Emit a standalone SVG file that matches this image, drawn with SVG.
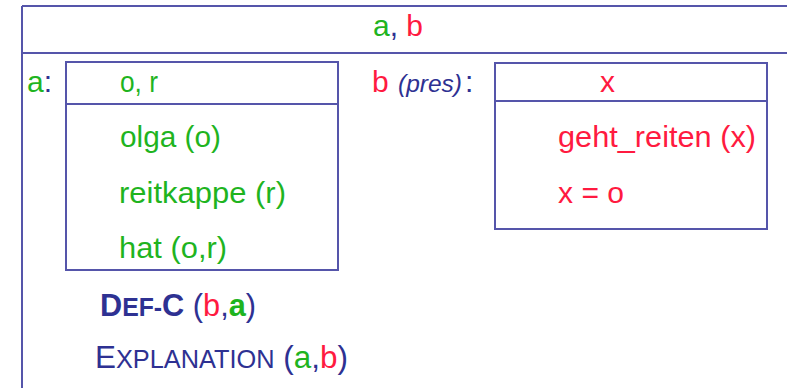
<svg xmlns="http://www.w3.org/2000/svg" width="787" height="388" viewBox="0 0 787 388">
<style>
text{font-family:"Liberation Sans",Arial,sans-serif;font-size:30px;fill:#2E3192}
.g{fill:#1FB41F}
.r{fill:#FF1A40}
.b{fill:#2E3192}
.ln{stroke:#5555AA;stroke-width:2;fill:none}
.it{font-style:italic;font-size:23px}
.sc{font-size:25px}
</style>
<rect width="787" height="388" fill="#fff"/>
<g id="outer">
<path class="ln" d="M22,6 H787 M22,6 V388 M22,53 H787"/>
<text x="373" y="36" textLength="50" lengthAdjust="spacingAndGlyphs"><tspan class="g">a</tspan><tspan class="b">, </tspan><tspan class="r">b</tspan></text>
</g>
<g id="box-a">
<text x="27" y="92"><tspan class="g">a</tspan><tspan class="b">:</tspan></text>
<rect class="ln" x="66" y="62" width="272" height="208"/>
<line class="ln" x1="66" y1="104" x2="338" y2="104"/>
<text class="g" x="120" y="92" textLength="38" lengthAdjust="spacingAndGlyphs">o, r</text>
<text class="g" x="120" y="147" textLength="101" lengthAdjust="spacingAndGlyphs">olga (o)</text>
<text class="g" x="119" y="203" textLength="167" lengthAdjust="spacingAndGlyphs">reitkappe (r)</text>
<text class="g" x="119" y="258" textLength="108" lengthAdjust="spacingAndGlyphs">hat (o,r)</text>
</g>
<g id="box-b">
<text class="r" x="372" y="92">b</text>
<text class="it" x="398" y="92" textLength="64" lengthAdjust="spacingAndGlyphs">(pres)</text>
<text x="465" y="92">:</text>
<rect class="ln" x="495" y="63" width="272" height="166"/>
<line class="ln" x1="495" y1="101" x2="767" y2="101"/>
<text class="r" x="600" y="92">x</text>
<text class="r" x="558" y="147" textLength="198" lengthAdjust="spacingAndGlyphs">geht_reiten (x)</text>
<text class="r" x="558" y="203" textLength="66" lengthAdjust="spacingAndGlyphs">x = o</text>
</g>
<g id="def-c">
<text x="100" y="316" textLength="156" lengthAdjust="spacingAndGlyphs" style="font-size:31px"><tspan font-weight="bold">D</tspan><tspan font-weight="bold" class="sc">EF-</tspan><tspan font-weight="bold">C</tspan> (<tspan class="r">b</tspan>,<tspan class="g" font-weight="bold">a</tspan>)</text>
</g>
<g id="explanation">
<text x="95" y="368" textLength="253" lengthAdjust="spacingAndGlyphs" style="font-size:31px">E<tspan class="sc">XPLANATION</tspan> (<tspan class="g">a</tspan>,<tspan class="r">b</tspan>)</text>
</g>
</svg>
